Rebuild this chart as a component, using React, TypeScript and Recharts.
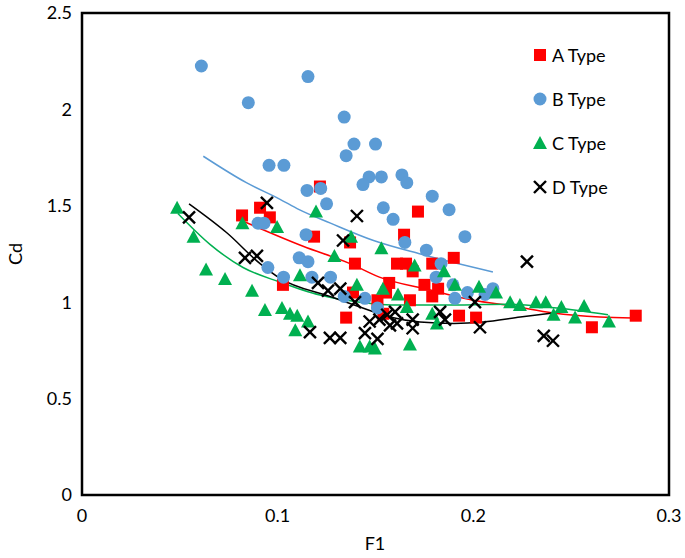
import React from "react";
import {
  ComposedChart,
  Scatter,
  Line,
  XAxis,
  YAxis,
  Legend,
  ReferenceArea,
} from "recharts";

// x = F1, y = Cd
const typeA = [
  { x: 0.0818, y: 1.45 }, { x: 0.091, y: 1.49 }, { x: 0.096, y: 1.44 },
  { x: 0.1216, y: 1.6 }, { x: 0.1186, y: 1.34 }, { x: 0.137, y: 1.31 },
  { x: 0.1395, y: 1.2 }, { x: 0.1027, y: 1.09 }, { x: 0.135, y: 0.92 },
  { x: 0.1385, y: 1.05 }, { x: 0.1717, y: 1.47 }, { x: 0.1646, y: 1.35 },
  { x: 0.19, y: 1.23 }, { x: 0.161, y: 1.2 }, { x: 0.1656, y: 1.2 },
  { x: 0.169, y: 1.16 }, { x: 0.179, y: 1.2 }, { x: 0.157, y: 1.1 },
  { x: 0.175, y: 1.09 }, { x: 0.182, y: 1.07 }, { x: 0.179, y: 1.03 },
  { x: 0.1554, y: 1.05 }, { x: 0.151, y: 1.01 }, { x: 0.1676, y: 1.01 },
  { x: 0.154, y: 0.94 }, { x: 0.1927, y: 0.93 }, { x: 0.2014, y: 0.92 },
  { x: 0.2606, y: 0.87 }, { x: 0.283, y: 0.93 },
];

const typeB = [
  { x: 0.061, y: 2.225 }, { x: 0.085, y: 2.035 }, { x: 0.1155, y: 2.17 },
  { x: 0.134, y: 1.96 }, { x: 0.139, y: 1.82 }, { x: 0.135, y: 1.76 },
  { x: 0.15, y: 1.82 }, { x: 0.0956, y: 1.71 }, { x: 0.1032, y: 1.71 },
  { x: 0.1467, y: 1.65 }, { x: 0.1436, y: 1.61 }, { x: 0.153, y: 1.65 },
  { x: 0.1635, y: 1.66 }, { x: 0.166, y: 1.62 }, { x: 0.115, y: 1.58 },
  { x: 0.122, y: 1.59 }, { x: 0.125, y: 1.51 }, { x: 0.179, y: 1.55 },
  { x: 0.154, y: 1.49 }, { x: 0.159, y: 1.43 }, { x: 0.1876, y: 1.48 },
  { x: 0.1145, y: 1.35 }, { x: 0.1957, y: 1.34 }, { x: 0.09, y: 1.41 },
  { x: 0.093, y: 1.41 }, { x: 0.111, y: 1.23 }, { x: 0.1155, y: 1.21 },
  { x: 0.095, y: 1.18 }, { x: 0.103, y: 1.13 }, { x: 0.1175, y: 1.13 },
  { x: 0.127, y: 1.13 }, { x: 0.165, y: 1.31 }, { x: 0.176, y: 1.27 },
  { x: 0.1835, y: 1.2 }, { x: 0.181, y: 1.13 }, { x: 0.1896, y: 1.09 },
  { x: 0.1906, y: 1.02 }, { x: 0.197, y: 1.05 }, { x: 0.206, y: 1.04 },
  { x: 0.21, y: 1.07 }, { x: 0.134, y: 1.03 }, { x: 0.1446, y: 1.02 },
  { x: 0.151, y: 0.97 },
];

const typeC = [
  { x: 0.0486, y: 1.49 }, { x: 0.057, y: 1.34 }, { x: 0.0634, y: 1.17 },
  { x: 0.0731, y: 1.12 }, { x: 0.082, y: 1.41 }, { x: 0.0869, y: 1.06 },
  { x: 0.0935, y: 0.96 }, { x: 0.0997, y: 1.39 }, { x: 0.1022, y: 0.97 },
  { x: 0.1063, y: 0.94 }, { x: 0.11, y: 0.93 }, { x: 0.109, y: 0.855 },
  { x: 0.1114, y: 1.14 }, { x: 0.1155, y: 0.9 }, { x: 0.1196, y: 1.47 },
  { x: 0.129, y: 1.24 }, { x: 0.1375, y: 1.34 }, { x: 0.1405, y: 1.09 },
  { x: 0.142, y: 0.77 }, { x: 0.147, y: 0.77 }, { x: 0.1497, y: 0.76 },
  { x: 0.153, y: 1.28 }, { x: 0.1538, y: 1.07 }, { x: 0.1615, y: 1.04 },
  { x: 0.166, y: 0.975 }, { x: 0.1676, y: 0.78 }, { x: 0.17, y: 1.19 },
  { x: 0.179, y: 0.94 }, { x: 0.1814, y: 0.89 }, { x: 0.185, y: 1.16 },
  { x: 0.1906, y: 1.09 }, { x: 0.2029, y: 1.08 }, { x: 0.2116, y: 1.05 },
  { x: 0.2188, y: 1.0 }, { x: 0.2238, y: 0.985 }, { x: 0.232, y: 1.0 },
  { x: 0.237, y: 1.0 }, { x: 0.241, y: 0.935 }, { x: 0.245, y: 0.975 },
  { x: 0.252, y: 0.92 }, { x: 0.2566, y: 0.98 }, { x: 0.2693, y: 0.9 },
];

const typeD = [
  { x: 0.0547, y: 1.44 }, { x: 0.0945, y: 1.515 }, { x: 0.0833, y: 1.23 },
  { x: 0.0894, y: 1.24 }, { x: 0.1405, y: 1.447 }, { x: 0.1334, y: 1.32 },
  { x: 0.2274, y: 1.21 }, { x: 0.1206, y: 1.1 }, { x: 0.1257, y: 1.06 },
  { x: 0.132, y: 1.07 }, { x: 0.1395, y: 1.0 }, { x: 0.1165, y: 0.845 },
  { x: 0.1267, y: 0.815 }, { x: 0.132, y: 0.815 }, { x: 0.1446, y: 0.84 },
  { x: 0.147, y: 0.9 }, { x: 0.152, y: 0.91 }, { x: 0.156, y: 0.935 },
  { x: 0.16, y: 0.95 }, { x: 0.1574, y: 0.88 }, { x: 0.161, y: 0.89 },
  { x: 0.151, y: 0.81 }, { x: 0.169, y: 0.91 }, { x: 0.169, y: 0.865 },
  { x: 0.183, y: 0.95 }, { x: 0.1855, y: 0.91 }, { x: 0.2008, y: 1.0 },
  { x: 0.2034, y: 0.87 }, { x: 0.236, y: 0.825 }, { x: 0.2407, y: 0.8 },
];

// trendlines
const trendA = [
  { x: 0.0833, y: 1.416 }, { x: 0.113, y: 1.29 }, { x: 0.137, y: 1.2 },
  { x: 0.152, y: 1.13 }, { x: 0.178, y: 1.063 }, { x: 0.2, y: 1.01 },
  { x: 0.22, y: 0.98 }, { x: 0.2407, y: 0.944 }, { x: 0.2647, y: 0.923 },
  { x: 0.2816, y: 0.918 },
];
const trendB = [
  { x: 0.062, y: 1.757 }, { x: 0.084, y: 1.62 }, { x: 0.101, y: 1.535 },
  { x: 0.111, y: 1.48 }, { x: 0.127, y: 1.41 }, { x: 0.149, y: 1.32 },
  { x: 0.173, y: 1.25 }, { x: 0.21, y: 1.157 },
];
const trendC = [
  { x: 0.049, y: 1.46 }, { x: 0.0654, y: 1.3 }, { x: 0.0823, y: 1.18 },
  { x: 0.101, y: 1.105 }, { x: 0.1216, y: 1.037 }, { x: 0.142, y: 1.0 },
  { x: 0.1625, y: 0.985 }, { x: 0.193, y: 0.985 }, { x: 0.217, y: 0.99 },
  { x: 0.2427, y: 0.97 }, { x: 0.2688, y: 0.935 },
];
const trendD = [
  { x: 0.0547, y: 1.51 }, { x: 0.074, y: 1.36 }, { x: 0.091, y: 1.2 },
  { x: 0.101, y: 1.125 }, { x: 0.1267, y: 1.03 }, { x: 0.142, y: 0.975 },
  { x: 0.1574, y: 0.923 }, { x: 0.1727, y: 0.897 }, { x: 0.19, y: 0.89 },
  { x: 0.205, y: 0.897 }, { x: 0.224, y: 0.923 }, { x: 0.2407, y: 0.944 },
];

const xTicks = [0, 0.1, 0.2, 0.3];
const yTicks = [0, 0.5, 1, 1.5, 2, 2.5];
const seriesNames = ["A Type", "B Type", "C Type", "D Type"];

const RED = "#FF0000";
const BLUE = "#5B9BD5";
const GREEN = "#00B050";
const BLACK = "#000000";
const FONT = "Lato, 'Open Sans', sans-serif";

const squareShape = (p: any) => (
  <rect x={p.cx - 6} y={p.cy - 6} width={12} height={12} fill={RED} />
);
const circleShape = (p: any) => <circle cx={p.cx} cy={p.cy} r={6.5} fill={BLUE} />;
const triangleShape = (p: any) => (
  <polygon
    points={`${p.cx},${p.cy - 7} ${p.cx - 7},${p.cy + 6} ${p.cx + 7},${p.cy + 6}`}
    fill={GREEN}
  />
);
const crossShape = (p: any) => (
  <g stroke={BLACK} strokeWidth={2.4}>
    <line x1={p.cx - 6} y1={p.cy - 6} x2={p.cx + 6} y2={p.cy + 6} />
    <line x1={p.cx - 6} y1={p.cy + 6} x2={p.cx + 6} y2={p.cy - 6} />
  </g>
);

const legendIcons = [squareShape, circleShape, triangleShape, crossShape];

const renderLegend = () => (
  <div style={{ fontFamily: FONT, fontSize: 18, color: "#000" }}>
    {seriesNames.map((name, i) => (
      <div key={name} style={{ display: "flex", alignItems: "center", height: 44 }}>
        <svg width={20} height={20}>
          {legendIcons[i]({ cx: 10, cy: 10 })}
        </svg>
        <span style={{ marginLeft: 2 }}>{name}</span>
      </div>
    ))}
  </div>
);

export default function App() {
  // pinned to the page corner so the axis titles can sit where the reference has them
  return (
    <div style={{ position: "absolute", left: 0, top: 0, width: 685, height: 558 }}>
      <ComposedChart
        width={685}
        height={558}
        margin={{ top: 13, right: 16, bottom: 0, left: 0 }}
        style={{ fontFamily: FONT }}
      >
        <XAxis
          type="number"
          dataKey="x"
          domain={[0, 0.3]}
          ticks={xTicks}
          tickLine={false}
          axisLine={false}
          tickSize={6}
          tickMargin={8}
          height={63}
          tick={{ fill: "#000", fontSize: 18 }}
          label={{
            content: () => (
              <text
                x={375}
                y={543}
                textAnchor="middle"
                dominantBaseline="central"
                fontSize={18}
                fill="#000"
              >
                F1
              </text>
            ),
          }}
        />
        <YAxis
          type="number"
          dataKey="y"
          domain={[0, 2.5]}
          ticks={yTicks}
          tickLine={false}
          axisLine={false}
          tickSize={6}
          tickMargin={4}
          width={82}
          tick={{ fill: "#000", fontSize: 18 }}
          label={{
            content: () => (
              <text
                x={15}
                y={254}
                transform="rotate(-90, 15, 254)"
                textAnchor="middle"
                dominantBaseline="central"
                fontSize={18}
                fill="#000"
              >
                Cd
              </text>
            ),
          }}
        />
        <ReferenceArea
          x1={0}
          x2={0.3}
          y1={0}
          y2={2.5}
          fill="none"
          stroke="#000"
          strokeWidth={2.5}
          ifOverflow="visible"
        />
        <Legend
          layout="vertical"
          align="center"
          verticalAlign="middle"
          content={renderLegend}
          wrapperStyle={{ top: 33, left: 530, width: 130 }}
        />
        <Scatter name="A Type" data={typeA} shape={squareShape} isAnimationActive={false} />
        <Scatter name="B Type" data={typeB} shape={circleShape} isAnimationActive={false} />
        <Scatter name="C Type" data={typeC} shape={triangleShape} isAnimationActive={false} />
        <Scatter name="D Type" data={typeD} shape={crossShape} isAnimationActive={false} />
        <Line data={trendB} dataKey="y" type="monotone" stroke={BLUE} strokeWidth={1.5} dot={false} legendType="none" isAnimationActive={false} />
        <Line data={trendA} dataKey="y" type="monotone" stroke={RED} strokeWidth={1.5} dot={false} legendType="none" isAnimationActive={false} />
        <Line data={trendC} dataKey="y" type="monotone" stroke={GREEN} strokeWidth={1.5} dot={false} legendType="none" isAnimationActive={false} />
        <Line data={trendD} dataKey="y" type="monotone" stroke={BLACK} strokeWidth={1.5} dot={false} legendType="none" isAnimationActive={false} />
      </ComposedChart>
    </div>
  );
}
